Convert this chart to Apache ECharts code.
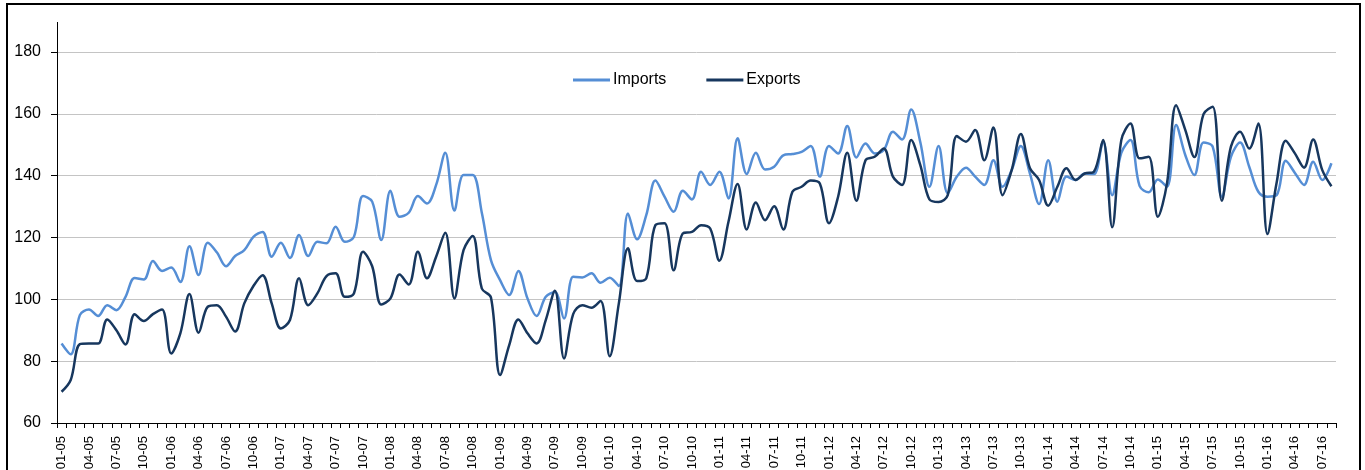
<!DOCTYPE html>
<html>
<head>
<meta charset="utf-8">
<script src="https://cdn.jsdelivr.net/npm/echarts@6/dist/echarts.min.js"></script>
<style>
  html, body { margin: 0; padding: 0; background: #fff; }
  #chart { width: 1365px; height: 470px; }
</style>
</head>
<body>
<div id="chart"></div>
<script>
// monthly index values, 01-05 .. 08-16
var importsData = [
    85.7, 82.2, 94.9, 96.7, 94.6, 98.1, 96.5, 100.8, 106.9, 106.4, 112.4, 109.2,
    110.3, 105.6, 117.2, 107.9, 118.3, 115.2, 110.7, 114.0, 115.9, 120.2, 121.8, 113.8,
    118.3, 113.4, 120.8, 114.0, 118.6, 118.1, 123.5, 118.6, 120.2, 133.4, 131.6, 119.2,
    135.1, 126.7, 128.0, 133.4, 131.0, 137.0, 147.4, 128.7, 140.2, 140.2, 128.0, 112.7,
    106.2, 101.4, 109.2, 100.3, 94.6, 100.8, 102.4, 93.8, 107.3, 107.1, 108.4, 105.4,
    107.0, 104.3, 127.8, 119.4, 127.2, 138.4, 133.2, 128.3, 135.1, 132.3, 141.3, 137.0,
    141.3, 132.6, 152.1, 140.5, 147.4, 142.0, 142.9, 146.6, 147.0, 147.7, 149.6, 139.7,
    149.6, 147.2, 156.1, 145.9, 150.4, 147.2, 148.3, 154.2, 151.7, 161.4, 150.8, 136.4,
    149.6, 134.3, 139.7, 142.6, 139.7, 137.0, 145.0, 136.4, 141.8, 149.6, 140.7, 130.8,
    145.0, 131.6, 139.7, 138.6, 140.7, 140.5, 151.0, 133.7, 147.4, 151.5, 136.7, 134.6,
    138.8, 136.4, 156.4, 146.7, 140.2, 150.7, 149.4, 133.2, 146.1, 150.7, 142.9, 134.8,
    133.2, 133.7, 144.8, 140.9, 137.0, 144.5, 138.6, 144.0
];

var exportsData = [
    70.1, 73.9, 85.5, 85.7, 85.7, 93.5, 90.0, 85.4, 95.2, 93.0, 95.2, 96.7,
    82.5, 89.0, 101.7, 89.2, 97.6, 98.1, 94.4, 89.6, 98.7, 104.3, 107.8, 98.7,
    90.6, 93.3, 106.8, 98.1, 101.9, 107.5, 108.4, 100.8, 101.9, 115.4, 110.7, 98.3,
    100.3, 108.0, 104.8, 115.4, 106.8, 113.8, 121.5, 100.3, 115.9, 120.5, 103.5, 100.6,
    75.5, 85.2, 93.5, 89.0, 85.7, 93.3, 102.8, 80.9, 95.2, 98.1, 97.3, 99.5,
    81.6, 98.7, 116.5, 105.9, 106.8, 124.0, 124.6, 109.4, 121.3, 121.8, 124.0, 122.9,
    112.5, 125.1, 137.3, 122.6, 131.3, 125.6, 130.1, 122.6, 134.8, 136.4, 138.4, 137.5,
    124.6, 133.2, 147.4, 131.9, 145.0, 146.1, 148.8, 139.7, 137.0, 151.5, 143.4, 132.3,
    131.5, 133.7, 152.8, 151.0, 154.8, 145.0, 155.6, 133.7, 141.8, 153.5, 142.4, 138.6,
    130.3, 136.4, 142.4, 138.6, 140.7, 141.3, 151.5, 123.3, 151.5, 156.9, 145.6, 146.1,
    126.7, 137.5, 162.8, 154.8, 146.0, 159.9, 162.3, 131.9, 149.4, 154.2, 148.8, 156.9,
    121.1, 137.7, 151.3, 147.2, 142.6, 151.7, 141.8, 136.6
];

var years = ['05','06','07','08','09','10','11','12','13','14','15','16'];
var monthNames = ['01','02','03','04','05','06','07','08','09','10','11','12'];

// category labels "MM-YY"
var months = [];
years.forEach(function (y) {
    monthNames.forEach(function (m) {
        if (months.length < importsData.length) months.push(m + '-' + y);
    });
});

var font = 'Liberation Sans, Arial, sans-serif';

var chart = echarts.init(document.getElementById('chart'));

var option = {
    backgroundColor: '#fff',
    animation: false,
    grid: {
        left: 57,
        right: 29,
        top: 52,
        bottom: 47,
        outerBoundsMode: 'none'
    },
    legend: {
        data: ['Imports', 'Exports'],
        left: 568,
        top: 67,
        icon: 'rect',
        itemWidth: 37,
        itemHeight: 3,
        itemGap: 40,
        textStyle: { color: '#000', fontSize: 16, fontFamily: font, padding: [0, 0, 0, -2] }
    },
    xAxis: {
        type: 'category',
        data: months,
        boundaryGap: true,
        axisLine: { lineStyle: { color: '#000', width: 1 } },
        axisTick: { show: true, interval: 0, length: 5, lineStyle: { color: '#000' } },
        axisLabel: {
            interval: 2,
            rotate: 90,
            margin: 13,
            color: '#000',
            fontSize: 13,
            fontFamily: font
        },
        splitLine: { show: false }
    },
    yAxis: {
        type: 'value',
        min: 60,
        max: 180,
        interval: 20,
        axisLine: { show: true, lineStyle: { color: '#000', width: 1 } },
        axisTick: { show: true, length: 6, lineStyle: { color: '#000' } },
        axisLabel: { color: '#000', fontSize: 16, margin: 16, fontFamily: font },
        splitLine: { show: true, lineStyle: { color: '#c4c4c4', width: 1 } }
    },
    graphic: [
        {   // frame
            type: 'rect',
            shape: { x: 7, y: 4, width: 1353, height: 500 },
            style: { fill: 'none', stroke: '#000', lineWidth: 2 },
            silent: true
        },
        {   // y-axis line runs above the 180 gridline
            type: 'line',
            shape: { x1: 57.5, y1: 22, x2: 57.5, y2: 52 },
            style: { stroke: '#000', lineWidth: 1 },
            silent: true
        }
    ],
    series: [
        {
            name: 'Imports',
            type: 'line',
            data: importsData,
            smooth: 0.35,
            symbol: 'none',
            lineStyle: { color: '#558ed5', width: 2.5 },
            itemStyle: { color: '#558ed5' }
        },
        {
            name: 'Exports',
            type: 'line',
            data: exportsData,
            smooth: 0.35,
            symbol: 'none',
            lineStyle: { color: '#17375e', width: 2.5 },
            itemStyle: { color: '#17375e' }
        }
    ]
};

chart.setOption(option);
</script>
</body>
</html>
